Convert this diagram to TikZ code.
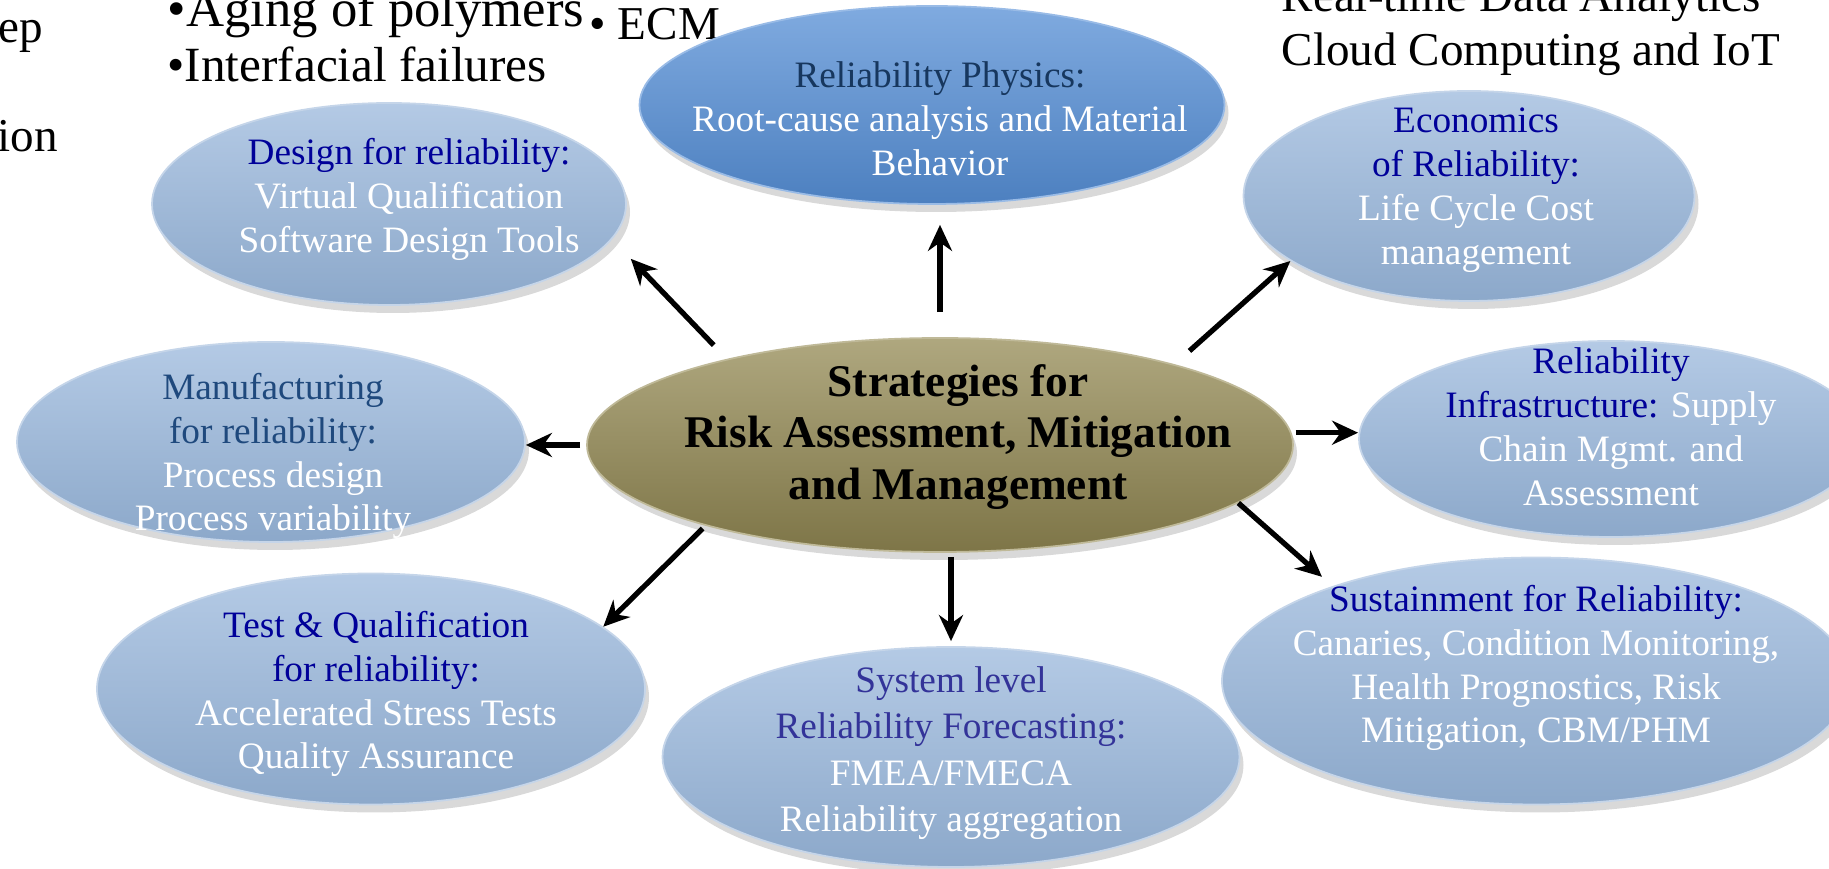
\documentclass[tikz,border=0pt]{standalone}
\usepackage{fontspec}
\setmainfont{Liberation Serif}
\usetikzlibrary{shapes.geometric,arrows.meta,shadows}
\definecolor{bub}{HTML}{95B3D7}
\definecolor{bubtop}{HTML}{B4CAE5}
\definecolor{phy}{HTML}{558ED5}
\definecolor{hubc}{HTML}{948A54}
\definecolor{hdblue}{HTML}{000099}
\definecolor{mfblue}{HTML}{1F497D}
\definecolor{syblue}{HTML}{333399}
\definecolor{phblue}{HTML}{17375E}
\def\hd#1{\textcolor{hdblue}{#1}}
\tikzset{
  bubble/.style={ellipse,draw=bub!55!white,line width=0.5pt,
    top color=bubtop,middle color=bub,bottom color=bub!94!black,
    drop shadow={opacity=0.3,shadow xshift=0.4mm,shadow yshift=-0.8mm}},
  btxt/.style={align=center,text=white,inner sep=0pt,
    font=\fontsize{10.6}{12.5}\selectfont},
  side/.style={anchor=base west,inner sep=0pt,font=\fontsize{13.4}{15}\selectfont},
  arr/.style={-{Stealth[length=2.6mm,width=2.4mm]},line width=1.5pt}
}
\begin{document}
\begin{tikzpicture}
\useasboundingbox (0,0) rectangle (18.29,8.69);
% notes round the top
\node[side] (ep) at (-0.02,8.26) {ep};
\node[side] (ion) at (-0.03,7.17) {ion};
\node[side,font=\fontsize{15}{16}\selectfont] (aging) at (1.67,8.42) {•Aging of polymers};
\node[side,font=\fontsize{14}{16}\selectfont] (iface) at (1.67,7.87) {•Interfacial failures};
\node[side] (ecm) at (5.89,8.29) {• ECM};
\node[side] (rtda) at (12.81,8.57) {Real-time Data Analytics};
\node[side] (cloud) at (12.81,8.03) {Cloud Computing and IoT};
% ellipses
\node[bubble,top color=hubc!75!white,middle color=hubc,bottom color=hubc!85!black,
  draw=hubc!60!white,minimum width=7.06cm,minimum height=2.14cm] (hub) at (9.40,4.24) {};
\node[bubble,top color=phy!75!white,middle color=phy,bottom color=phy!90!black,
  draw=phy!60!white,minimum width=5.85cm,minimum height=1.98cm] (phys) at (9.32,7.64) {};
\node[bubble,minimum width=4.74cm,minimum height=2.02cm] (design) at (3.89,6.65) {};
\node[bubble,minimum width=4.51cm,minimum height=2.10cm] (econ) at (14.69,6.73) {};
\node[bubble,minimum width=5.08cm,minimum height=2.00cm] (manuf) at (2.71,4.27) {};
\node[bubble,minimum width=5.04cm,minimum height=1.96cm] (infra) at (16.11,4.30) {};
\node[bubble,minimum width=6.28cm,minimum height=2.47cm] (sustain) at (15.36,1.88) {};
\node[bubble,minimum width=5.77cm,minimum height=2.20cm] (system) at (9.51,1.12) {};
\node[bubble,minimum width=5.48cm,minimum height=2.31cm] (test) at (3.71,1.80) {};
% texts
\node[btxt,text=black,font=\fontsize{12.9}{14.6}\selectfont\bfseries] (hub-t)
  at ([shift={(0.18,0.08)}]hub) {Strategies for\\Risk Assessment, Mitigation\\and Management};
\node[btxt] (phys-t) at ([shift={(0.08,-0.14)}]phys)
  {\textcolor{phblue}{Reliability Physics:}\\Root-cause analysis and Material\\Behavior};
\node[btxt] (design-t) at ([shift={(0.2,0.05)}]design)
  {\hd{Design for reliability:}\\Virtual Qualification\\Software Design Tools};
\node[btxt] (econ-t) at ([shift={(0.07,0.06)}]econ)
  {\hd{Economics}\\\hd{of Reliability:}\\Life Cycle Cost\\management};
\node[btxt] (manuf-t) at ([shift={(0.02,-0.14)}]manuf)
  {\textcolor{mfblue}{Manufacturing}\\\textcolor{mfblue}{for reliability:}\\Process design\\Process variability};
\node[btxt] (infra-t) at ([shift={(0,0.12)}]infra)
  {\hd{Reliability}\\\hd{Infrastructure:} Supply\\Chain Mgmt. and\\Assessment};
\node[btxt] (sustain-t) at ([shift={(0,0.13)}]sustain)
  {\hd{Sustainment for Reliability:}\\Canaries, Condition Monitoring,\\Health Prognostics, Risk\\Mitigation, CBM/PHM};
\node[btxt,font=\fontsize{10.6}{13.2}\selectfont] (system-t) at ([shift={(0,0.04)}]system)
  {\textcolor{syblue}{System level}\\\textcolor{syblue}{Reliability Forecasting:}\\FMEA/FMECA\\Reliability aggregation};
\node[btxt] (test-t) at ([shift={(0.05,-0.05)}]test)
  {\hd{Test \& Qualification}\\\hd{for reliability:}\\Accelerated Stress Tests\\Quality Assurance};
% arrows out of the hub
\draw[arr,shorten <=0.19cm,shorten >=0.27cm] (hub.158) -- (design.-9);
\draw[arr,shorten <=0.25cm,shorten >=0.2cm] (hub.north) -- (hub.north |- phys.south);
\draw[arr,shorten <=0.2cm] (hub.19) -- (econ.200);
\draw[arr,shorten <=0.06cm] (hub.west) -- (hub.west -| manuf.east);
\draw[arr,shorten <=0.04cm] (hub.2) -- (hub.2 -| infra.west);
\draw[arr,shorten >=0.14cm] (hub.-11) -- (sustain.155);
\draw[arr,shorten <=0.04cm,shorten >=0.05cm] (system.north |- hub.south) -- (system.north);
\draw[arr,shorten <=0.04cm] (hub.199) -- (test.15);
\end{tikzpicture}
\end{document}
